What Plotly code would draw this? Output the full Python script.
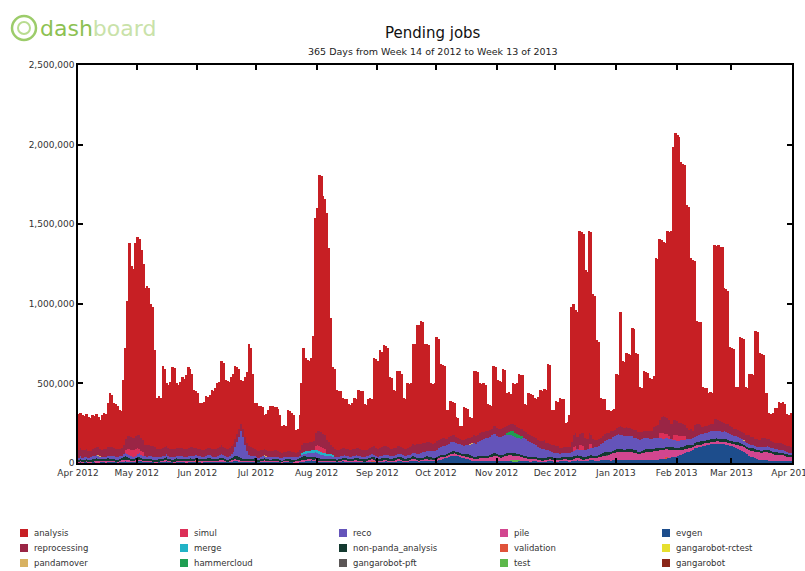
import pandas as pd
import plotly.graph_objects as go

# ---------------------------------------------------------------------------
# Pending jobs per activity, one value per day (thousands of jobs),
# 365 days starting Sunday 1 April 2012. One row per week.
# ---------------------------------------------------------------------------
start_date = "2012-04-01"
n_days = 365

analysis = [
    226, 222, 219, 215, 218, 212, 203,
    213, 201, 209, 191, 180, 220, 230,
    224, 279, 339, 331, 281, 283, 275,
    244, 232, 405, 568, 852, 1210, 1075,
    1060, 1211, 1241, 1235, 1181, 1104, 984,
    998, 988, 893, 876, 612, 325, 335,
    325, 514, 489, 395, 395, 420, 511,
    506, 407, 397, 415, 446, 441, 465,
    504, 492, 462, 365, 358, 349, 295,
    295, 302, 332, 323, 331, 371, 370,
    383, 405, 410, 530, 527, 425, 426,
    417, 436, 439, 457, 422, 375, 273,
    302, 377, 447, 642, 619, 466, 293,
    295, 285, 275, 267, 214, 224, 253,
    284, 278, 270, 270, 263, 231, 168,
    171, 165, 252, 251, 244, 229, 145,
    145, 219, 390, 594, 535, 523, 510,
    525, 660, 1351, 1401, 1606, 1604, 1497,
    1486, 1425, 1218, 795, 499, 502, 378,
    372, 363, 318, 313, 313, 285, 281,
    287, 320, 309, 365, 365, 368, 289,
    281, 309, 315, 304, 556, 560, 550,
    613, 600, 634, 627, 618, 448, 446,
    368, 359, 473, 467, 457, 318, 318,
    405, 395, 399, 631, 629, 751, 748,
    768, 758, 622, 612, 610, 376, 375,
    380, 650, 633, 468, 460, 452, 179,
    174, 218, 207, 204, 124, 125, 78,
    90, 203, 194, 186, 131, 122, 402,
    405, 391, 314, 302, 308, 288, 170,
    158, 146, 378, 373, 300, 303, 297,
    368, 356, 206, 204, 192, 256, 259,
    276, 339, 340, 339, 170, 170, 256,
    259, 261, 245, 247, 268, 321, 318,
    322, 334, 496, 495, 215, 225, 285,
    281, 317, 309, 300, 151, 160, 197,
    849, 822, 771, 785, 1275, 1262, 1251,
    1051, 1049, 1273, 1275, 909, 908, 624,
    607, 250, 235, 220, 141, 144, 124,
    129, 130, 338, 329, 720, 413, 415,
    461, 463, 459, 637, 638, 483, 487,
    282, 277, 378, 367, 364, 334, 331,
    317, 1059, 1042, 1143, 1109, 1097, 1096,
    1175, 1183, 1210, 1715, 1802, 1798, 1795,
    1639, 1633, 1636, 1402, 1402, 1078, 1077,
    1029, 646, 636, 646, 251, 242, 235,
    202, 204, 190, 1093, 1086, 1098, 1095,
    1099, 848, 845, 839, 500, 500, 503,
    267, 268, 589, 592, 591, 303, 294,
    387, 396, 392, 678, 675, 542, 529,
    525, 284, 286, 163, 168, 182, 221,
    219, 257, 254, 265, 254, 200, 199,
    212,
]

reprocessing = [
    50, 52, 48, 45, 47, 44, 42,
    46, 48, 50, 47, 44, 40, 45,
    48, 55, 58, 54, 50, 49, 47,
    45, 46, 60, 70, 80, 85, 82,
    80, 84, 86, 85, 82, 80, 75,
    72, 70, 66, 64, 60, 50, 48,
    47, 55, 54, 50, 49, 50, 54,
    53, 50, 49, 50, 52, 51, 52,
    54, 53, 52, 48, 47, 46, 43,
    42, 43, 45, 44, 45, 47, 46,
    48, 49, 47, 54, 53, 50, 49,
    48, 49, 50, 52, 52, 50, 48,
    48, 49, 50, 55, 54, 48, 42,
    42, 41, 40, 39, 38, 38, 40,
    41, 40, 40, 40, 39, 35, 32,
    33, 32, 38, 37, 36, 35, 30,
    30, 34, 48, 55, 52, 52, 52,
    53, 58, 85, 88, 95, 94, 90,
    88, 86, 75, 60, 50, 49, 47,
    46, 46, 45, 44, 43, 43, 44,
    46, 46, 48, 48, 47, 43, 43,
    42, 45, 45, 45, 52, 52, 51,
    54, 53, 55, 55, 54, 48, 47,
    45, 45, 50, 49, 49, 44, 43,
    47, 47, 48, 55, 55, 60, 60,
    62, 61, 56, 56, 55, 47, 47,
    47, 56, 55, 52, 51, 51, 40,
    41, 43, 43, 42, 38, 38, 35,
    35, 40, 40, 39, 37, 36, 50,
    50, 49, 47, 47, 46, 46, 42,
    42, 41, 52, 52, 48, 48, 47,
    50, 50, 43, 44, 44, 46, 46,
    47, 48, 48, 42, 42, 45, 44,
    44, 43, 43, 45, 45, 45, 52,
    52, 42, 42, 44, 44, 45, 45,
    44, 34, 35, 37, 36, 38, 40,
    64, 80, 80, 80, 72, 72, 80,
    80, 66, 66, 56, 56, 44, 44,
    44, 42, 42, 42, 43, 43, 48,
    40, 40, 45, 45, 52, 52, 50,
    58, 52, 52, 45, 45, 48, 48,
    47, 44, 44, 46, 46, 48, 48,
    74, 74, 78, 78, 100, 105, 104,
    104, 98, 98, 90, 90, 85, 84,
    80, 78, 70, 70, 58, 58, 45,
    75, 75, 70, 60, 45, 45, 44,
    45, 45, 45, 75, 75, 70, 65,
    60, 55, 55, 54, 48, 48, 45,
    46, 46, 46, 44, 44, 44, 55,
    55, 46, 46, 47, 48, 48, 56,
    56, 55, 46, 46, 40, 40, 40,
    40, 41, 41, 42, 42, 40, 40,
    40,
]

reco = [
    12, 14, 15, 13, 12, 14, 16,
    18, 20, 22, 20, 18, 16, 15,
    14, 15, 16, 18, 20, 18, 16,
    15, 16, 18, 20, 22, 20, 18,
    16, 18, 20, 22, 20, 18, 16,
    15, 14, 16, 18, 17, 15, 14,
    13, 15, 17, 19, 18, 16, 14,
    13, 14, 16, 18, 17, 15, 14,
    15, 16, 18, 20, 19, 17, 15,
    14, 15, 17, 19, 18, 16, 15,
    16, 18, 20, 22, 21, 19, 18,
    20, 25, 35, 60, 90, 130, 170,
    140, 90, 50, 28, 20, 18, 16,
    15, 14, 15, 16, 15, 14, 13,
    12, 13, 14, 15, 14, 13, 12,
    11, 12, 13, 14, 13, 12, 11,
    12, 14, 16, 18, 20, 22, 24,
    26, 28, 30, 32, 30, 28, 26,
    24, 22, 20, 18, 16, 15, 14,
    13, 14, 15, 16, 15, 14, 13,
    14, 15, 16, 17, 16, 15, 14,
    15, 16, 17, 18, 17, 16, 15,
    16, 17, 18, 19, 18, 17, 16,
    17, 18, 19, 20, 19, 18, 17,
    18, 19, 20, 22, 24, 26, 28,
    30, 32, 34, 36, 38, 40, 42,
    44, 46, 48, 50, 52, 54, 56,
    58, 60, 62, 60, 58, 56, 54,
    52, 50, 55, 60, 70, 80, 90,
    80, 88, 95, 100, 105, 110, 112,
    115, 118, 120, 118, 115, 112, 118,
    120, 122, 120, 116, 110, 106, 102,
    100, 98, 104, 110, 112, 108, 102,
    95, 88, 82, 75, 68, 62, 56,
    60, 50, 45, 40, 36, 32, 30,
    28, 26, 25, 24, 25, 26, 28,
    30, 32, 34, 36, 38, 40, 42,
    40, 42, 44, 46, 48, 52, 56,
    60, 64, 68, 72, 76, 80, 84,
    86, 88, 90, 92, 90, 88, 86,
    85, 84, 83, 82, 80, 78, 76,
    75, 74, 73, 72, 70, 68, 66,
    65, 64, 63, 62, 60, 58, 56,
    54, 52, 50, 48, 46, 45, 44,
    43, 42, 40, 40, 40, 40, 40,
    40, 40, 42, 44, 45, 46, 47,
    48, 49, 50, 50, 50, 49, 48,
    47, 46, 45, 44, 42, 40, 38,
    36, 34, 32, 30, 28, 26, 25,
    24, 23, 22, 21, 20, 20, 20,
    20, 21, 22, 23, 22, 21, 20,
    20, 19, 18, 17, 16, 15, 14,
    14,
]

pile = [
    4, 5, 3, 4, 6, 5, 4,
    5, 6, 8, 10, 8, 6, 5,
    4, 5, 6, 5, 4, 3, 4,
    5, 6, 7, 8, 7, 6, 5,
    4, 5, 6, 5, 4, 5, 6,
    5, 4, 3, 4, 5, 6, 5,
    4, 5, 6, 7, 6, 5, 4,
    5, 6, 5, 4, 5, 6, 7,
    6, 5, 4, 5, 6, 5, 4,
    5, 6, 7, 6, 5, 4, 5,
    6, 7, 8, 7, 6, 5, 4,
    5, 6, 7, 8, 7, 6, 5,
    4, 5, 6, 5, 4, 5, 6,
    5, 4, 5, 6, 5, 4, 5,
    6, 5, 4, 5, 6, 5, 4,
    5, 6, 5, 4, 5, 6, 5,
    6, 7, 8, 9, 8, 7, 6,
    5, 6, 7, 6, 5, 4, 5,
    6, 5, 4, 5, 6, 5, 4,
    5, 6, 7, 6, 5, 6, 7,
    6, 5, 6, 7, 6, 5, 4,
    5, 6, 7, 8, 7, 6, 5,
    6, 7, 8, 7, 6, 5, 6,
    7, 8, 9, 8, 7, 6, 5,
    6, 7, 8, 9, 8, 7, 6,
    7, 8, 9, 10, 9, 8, 7,
    8, 9, 10, 11, 10, 9, 8,
    9, 10, 11, 12, 11, 10, 9,
    10, 11, 12, 13, 12, 11, 10,
    12, 14, 16, 18, 20, 22, 24,
    26, 28, 30, 32, 30, 28, 26,
    28, 30, 32, 34, 32, 30, 28,
    26, 24, 22, 20, 18, 16, 14,
    12, 11, 10, 10, 9, 9, 8,
    8, 8, 9, 9, 10, 10, 9,
    9, 8, 8, 9, 10, 11, 12,
    12, 13, 14, 15, 14, 13, 12,
    12, 13, 14, 15, 16, 18, 20,
    20, 22, 25, 28, 32, 36, 40,
    44, 48, 50, 52, 54, 55, 54,
    52, 50, 48, 46, 44, 42, 40,
    40, 42, 45, 48, 50, 52, 54,
    55, 56, 56, 55, 54, 52, 50,
    48, 46, 44, 42, 40, 36, 32,
    30, 28, 26, 24, 20, 18, 16,
    15, 14, 13, 12, 12, 11, 10,
    10, 10, 11, 11, 12, 12, 13,
    13, 14, 14, 15, 16, 17, 18,
    20, 22, 24, 26, 28, 30, 32,
    34, 36, 38, 40, 42, 44, 46,
    48, 50, 52, 50, 48, 46, 44,
    42, 40, 38, 36, 34, 32, 30,
    28,
]

evgen = [
    6, 8, 5, 7, 9, 6, 5,
    7, 8, 6, 5, 7, 9, 8,
    6, 7, 8, 10, 9, 7, 6,
    8, 10, 12, 14, 12, 10, 8,
    9, 11, 13, 15, 13, 11, 9,
    8, 10, 9, 7, 6, 5, 7,
    8, 9, 10, 11, 9, 8, 7,
    6, 8, 9, 10, 8, 7, 6,
    7, 8, 9, 10, 9, 8, 7,
    6, 7, 8, 9, 10, 9, 8,
    7, 9, 11, 12, 10, 9, 8,
    9, 11, 13, 15, 14, 12, 10,
    9, 8, 7, 8, 9, 10, 9,
    8, 7, 9, 10, 11, 10, 9,
    8, 9, 10, 9, 8, 7, 6,
    7, 8, 9, 8, 7, 6, 5,
    6, 8, 10, 12, 14, 16, 18,
    20, 18, 16, 14, 12, 10, 9,
    8, 9, 10, 11, 10, 9, 8,
    9, 10, 11, 12, 11, 10, 9,
    10, 11, 12, 11, 10, 9, 8,
    9, 10, 11, 12, 11, 10, 9,
    10, 11, 12, 13, 12, 11, 10,
    11, 12, 14, 15, 14, 12, 11,
    12, 14, 16, 18, 16, 14, 12,
    13, 15, 17, 18, 16, 15, 14,
    15, 17, 20, 24, 28, 32, 36,
    40, 44, 46, 48, 46, 44, 40,
    36, 32, 28, 24, 20, 18, 16,
    15, 14, 13, 12, 12, 11, 10,
    10, 11, 12, 13, 12, 11, 10,
    11, 12, 13, 14, 13, 12, 11,
    12, 13, 14, 15, 14, 13, 12,
    12, 13, 14, 13, 12, 11, 10,
    11, 12, 13, 14, 13, 12, 11,
    12, 13, 14, 15, 14, 13, 12,
    13, 14, 15, 16, 15, 14, 13,
    14, 15, 16, 17, 16, 15, 14,
    15, 16, 17, 18, 17, 16, 15,
    16, 17, 18, 19, 18, 17, 16,
    17, 18, 19, 20, 19, 18, 17,
    18, 19, 20, 21, 20, 19, 18,
    19, 20, 22, 24, 26, 28, 30,
    32, 34, 36, 38, 40, 44, 48,
    52, 56, 60, 66, 72, 78, 84,
    90, 96, 100, 104, 108, 112, 115,
    118, 120, 122, 124, 125, 124, 122,
    120, 118, 115, 112, 108, 104, 100,
    96, 90, 84, 78, 70, 62, 54,
    46, 40, 35, 30, 26, 22, 20,
    18, 17, 16, 15, 14, 13, 12,
    12, 11, 12, 13, 12, 11, 10,
    10,
]

non_panda_analysis = [
    12, 14, 10, 11, 13, 9, 10,
    11, 12, 15, 13, 10, 9, 12,
    14, 16, 13, 12, 11, 10, 12,
    13, 15, 18, 20, 17, 14, 12,
    11, 13, 16, 18, 15, 12, 10,
    12, 14, 13, 11, 10, 9, 11,
    13, 12, 14, 16, 13, 11, 10,
    12, 15, 14, 13, 12, 10, 11,
    14, 16, 15, 12, 11, 10, 12,
    13, 12, 11, 14, 16, 13, 11,
    10, 12, 14, 15, 13, 12, 10,
    11, 13, 16, 18, 20, 17, 14,
    12, 11, 10, 12, 14, 13, 11,
    10, 9, 11, 12, 13, 11, 10,
    9, 10, 12, 11, 10, 9, 8,
    10, 12, 13, 11, 10, 12, 14,
    16, 18, 20, 22, 19, 16, 14,
    13, 12, 14, 13, 12, 11, 10,
    11, 12, 13, 12, 11, 10, 9,
    10, 11, 12, 14, 13, 12, 11,
    12, 13, 14, 12, 11, 10, 12,
    13, 14, 15, 13, 12, 11, 10,
    11, 12, 13, 14, 12, 11, 10,
    12, 13, 15, 16, 14, 12, 11,
    12, 13, 14, 15, 13, 12, 11,
    10, 11, 12, 13, 12, 11, 10,
    11, 12, 14, 15, 14, 12, 11,
    13, 15, 16, 14, 13, 12, 11,
    12, 14, 16, 18, 16, 14, 12,
    13, 14, 15, 16, 14, 13, 12,
    14, 16, 18, 17, 15, 13, 12,
    13, 15, 16, 15, 14, 12, 11,
    12, 13, 15, 16, 14, 13, 12,
    13, 14, 16, 15, 13, 12, 11,
    12, 14, 15, 13, 12, 11, 10,
    11, 12, 14, 15, 14, 12, 11,
    12, 14, 16, 18, 16, 14, 12,
    13, 15, 17, 16, 15, 13, 12,
    14, 16, 18, 20, 18, 16, 14,
    15, 17, 19, 18, 16, 15, 14,
    16, 18, 20, 19, 17, 16, 15,
    14, 16, 18, 17, 15, 14, 13,
    15, 17, 19, 18, 16, 15, 14,
    16, 18, 20, 19, 17, 16, 15,
    17, 19, 21, 20, 18, 17, 16,
    18, 20, 22, 21, 19, 18, 17,
    17, 19, 20, 18, 17, 16, 15,
    16, 18, 19, 17, 16, 15, 14,
    15, 17, 18, 16, 15, 14, 13,
    14, 16, 17, 15, 14, 13, 12,
    13, 15, 16, 14, 13, 12, 11,
    12, 14, 15, 13, 12, 11, 10,
    11,
]

# Activities that only appear on a few days: (day index, thousands of jobs)
simul_days = [24, 25, 26, 27, 28, 29, 30, 31, 32, 33,
              121, 122, 123, 124, 125, 126,
              253, 254, 256, 257, 258, 261, 262,
              297, 298, 299, 300, 301, 302,
              304, 305, 306, 307, 308, 309, 310]
simul_vals = [20, 30, 35, 40, 40, 38, 35, 30, 25, 20,
              20, 30, 35, 35, 30, 25,
              25, 30, 30, 35, 30, 30, 25,
              30, 35, 35, 30, 25, 20,
              30, 35, 35, 30, 28, 25, 20]

merge_days = [114, 115, 116, 117, 118, 119, 120, 121, 122, 123,
              124, 125, 126, 127, 128, 129, 130]
merge_vals = [8, 10, 12, 14, 16, 18, 18, 17, 16, 15, 14, 13, 12, 11, 10, 9, 8]

hammercloud_days = [219, 220, 221, 222, 223, 224, 225, 226, 227]
hammercloud_vals = [10, 18, 25, 30, 28, 24, 18, 12, 8]

test_days = [221, 222, 223, 224, 225]
test_vals = [5, 8, 10, 8, 5]

validation_days = [60, 61, 62, 150, 151, 300, 301]
validation_vals = [5, 5, 4, 5, 5, 5, 5]

pandamover_days = [10, 11, 95, 96, 200, 201, 340]
pandamover_vals = [4, 3, 4, 4, 4, 4, 4]

gangarobot_pft_days = [30, 90, 180, 270, 330]
gangarobot_pft_vals = [3, 3, 3, 3, 3]

gangarobot_rctest_days = [45, 135, 225, 315]
gangarobot_rctest_vals = [2, 2, 2, 2]

gangarobot_days = [15, 105, 195, 285, 345]
gangarobot_vals = [3, 3, 3, 3, 3]

y_ticks = [0, 500000, 1000000, 1500000, 2000000, 2500000]

legend_rows = [
    ["analysis", "simul", "reco", "pile", "evgen"],
    ["reprocessing", "merge", "non-panda_analysis", "validation", "gangarobot-rctest"],
    ["pandamover", "hammercloud", "gangarobot-pft", "test", "gangarobot"],
]

colors = {
    "analysis": "#c71f24",
    "reprocessing": "#9a2545",
    "pandamover": "#d8b262",
    "simul": "#dc2f58",
    "merge": "#22b3c6",
    "hammercloud": "#1f9e52",
    "reco": "#6454ba",
    "non-panda_analysis": "#143a30",
    "gangarobot-pft": "#5b5656",
    "pile": "#d2468f",
    "validation": "#e0523a",
    "test": "#5db84b",
    "evgen": "#1d4d8c",
    "gangarobot-rctest": "#e6df2e",
    "gangarobot": "#8a2618",
}

# ---------------------------------------------------------------------------
all_days = list(range(n_days))
stack = [  # bottom of the stack first
    ("gangarobot", gangarobot_days, gangarobot_vals),
    ("gangarobot-rctest", gangarobot_rctest_days, gangarobot_rctest_vals),
    ("evgen", all_days, evgen),
    ("test", test_days, test_vals),
    ("validation", validation_days, validation_vals),
    ("pile", all_days, pile),
    ("gangarobot-pft", gangarobot_pft_days, gangarobot_pft_vals),
    ("non-panda_analysis", all_days, non_panda_analysis),
    ("reco", all_days, reco),
    ("hammercloud", hammercloud_days, hammercloud_vals),
    ("merge", merge_days, merge_vals),
    ("simul", simul_days, simul_vals),
    ("pandamover", pandamover_days, pandamover_vals),
    ("reprocessing", all_days, reprocessing),
    ("analysis", all_days, analysis),
]

for name, days, vals in stack:
    if len(days) != len(vals):
        raise ValueError(f"{name}: {len(days)} days but {len(vals)} values")

t0 = pd.Timestamp(start_date)
day_centres = [t0 + pd.Timedelta(days=d, hours=12) for d in range(n_days)]
one_day_ms = 24 * 3600 * 1000

fig = go.Figure()
for name, days, vals in stack:
    fig.add_trace(go.Bar(
        x=[day_centres[d] for d in days],
        y=[v * 1000 for v in vals],
        name=name,
        width=one_day_ms,
        marker=dict(color=colors[name], line=dict(width=0)),
        showlegend=False,
        hovertemplate="%{x|%d %b %Y}: %{y:,}<extra>" + name + "</extra>",
    ))

# plot area in pixels
W, H = 805, 571
L, R, T, B = 78, 792, 65, 463


def px_x(px):
    return (px - L) / (R - L)


def px_y(py):
    return (B - py) / (B - T)


font_family = "DejaVu Sans"
month_starts = pd.date_range(t0, periods=13, freq="MS")

fig.update_layout(
    width=W, height=H,
    margin=dict(l=L, r=W - R, t=T, b=H - B, autoexpand=False),
    paper_bgcolor="white", plot_bgcolor="white",
    barmode="stack", bargap=0,
    font=dict(family=font_family, color="#333"),
    xaxis=dict(
        type="date",
        automargin=False,
        range=[t0, t0 + pd.Timedelta(days=n_days, minutes=30)],
        tickvals=list(month_starts),
        ticktext=[d.strftime("%b %Y") for d in month_starts],
        ticklabeloverflow="allow",
        ticks="inside", ticklen=5, tickwidth=1.5, tickcolor="black",
        showline=True, linecolor="black", linewidth=1.5, mirror="ticks",
        showgrid=False, zeroline=False,
        tickfont=dict(size=9, color="#333"),
    ),
    yaxis=dict(
        automargin=False,
        range=[0, 2500000],
        tickvals=y_ticks,
        tickformat=",d",
        ticks="inside", ticklen=5, tickwidth=1.5, tickcolor="black",
        showline=True, linecolor="black", linewidth=1.5, mirror="ticks",
        showgrid=False, zeroline=False,
        tickfont=dict(size=9, color="#333"),
    ),
)

annotations = [
    dict(text="Pending jobs", x=px_x(433), y=px_y(33), xref="paper", yref="paper",
         showarrow=False, xanchor="center", yanchor="middle",
         font=dict(size=15, color="#111", family=font_family)),
    dict(text="365 Days from Week 14 of 2012 to Week 13 of 2013",
         x=px_x(433), y=px_y(52), xref="paper", yref="paper",
         showarrow=False, xanchor="center", yanchor="middle",
         font=dict(size=9.5, color="#222", family=font_family)),
    dict(text="<span style='color:#8cc152'>dash</span>"
              "<span style='color:#c9e2a9'>board</span>",
         x=px_x(38), y=px_y(28), xref="paper", yref="paper",
         showarrow=False, xanchor="left", yanchor="middle",
         font=dict(size=22, family=font_family)),
]

shapes = [
    dict(type="circle", xref="paper", yref="paper",
         x0=px_x(12), x1=px_x(36), y0=px_y(40), y1=px_y(16),
         line=dict(color="#9ccc6a", width=2.5), fillcolor="rgba(0,0,0,0)"),
    dict(type="circle", xref="paper", yref="paper",
         x0=px_x(18), x1=px_x(30), y0=px_y(34), y1=px_y(22),
         line=dict(color="#b8dc90", width=2), fillcolor="rgba(0,0,0,0)"),
]

# legend grid
col_x = [20, 180, 339, 500, 662]
row_y = [533, 548, 563]
for r, row in enumerate(legend_rows):
    for c, name in enumerate(row):
        cx, cy = col_x[c], row_y[r]
        shapes.append(dict(type="rect", xref="paper", yref="paper",
                           x0=px_x(cx), x1=px_x(cx + 8),
                           y0=px_y(cy + 4), y1=px_y(cy - 4),
                           fillcolor=colors[name], line=dict(width=0)))
        annotations.append(dict(text=name, x=px_x(cx + 12), y=px_y(cy),
                                xref="paper", yref="paper", showarrow=False,
                                xanchor="left", yanchor="middle",
                                font=dict(size=8.5, color="#333", family=font_family)))

fig.update_layout(annotations=annotations, shapes=shapes)

fig.write_html("out.html")
